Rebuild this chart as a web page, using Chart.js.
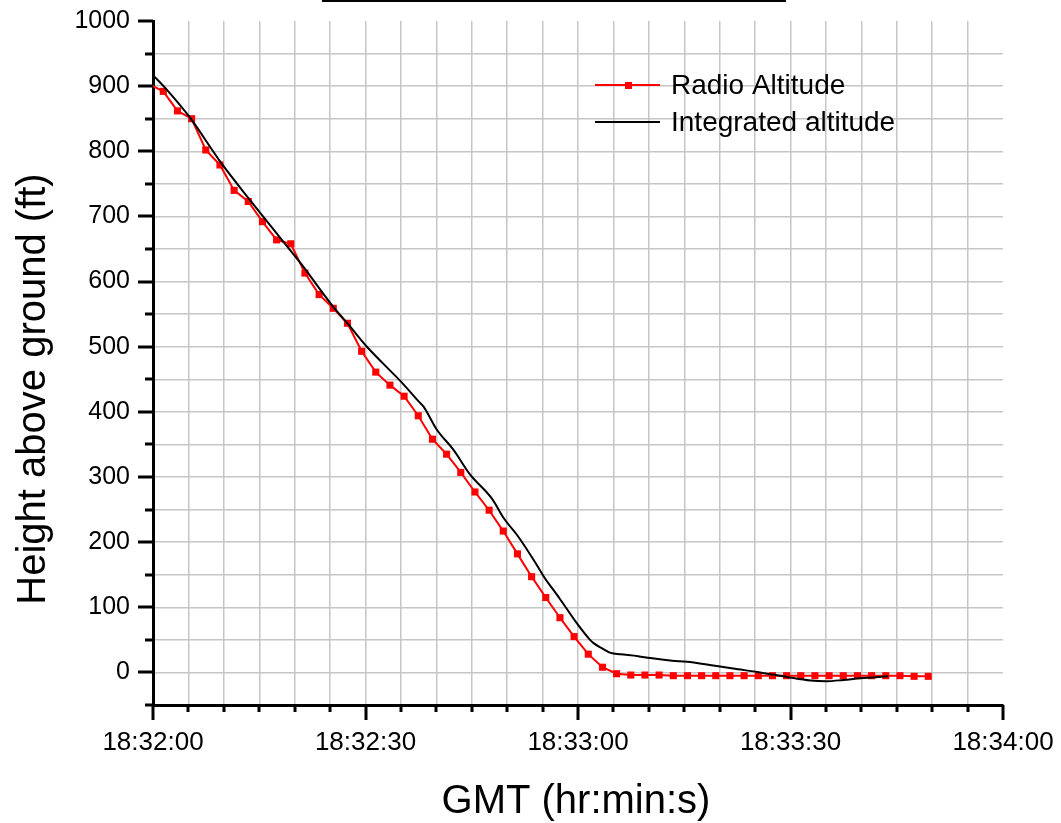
<!DOCTYPE html>
<html>
<head>
<meta charset="utf-8">
<script src="https://cdn.jsdelivr.net/npm/chart.js@4/dist/chart.umd.min.js"></script>
<style>
  body { margin: 0; background: #fff; }
  #wrap { position: relative; width: 1061px; height: 823px; }
</style>
</head>
<body>
<div id="wrap"><canvas id="chart" width="1061" height="823"></canvas></div>
<script>
// seconds after 18:32:00
var radioTimes = [-0.55, 1.45, 3.45, 5.45, 7.45, 9.45, 11.45, 13.45, 15.45, 17.45, 19.45,
    21.45, 23.45, 25.45, 27.45, 29.45, 31.45, 33.45, 35.45, 37.45, 39.45,
    41.45, 43.45, 45.45, 47.45, 49.45, 51.45, 53.45, 55.45, 57.45, 59.45,
    61.45, 63.45, 65.45, 67.45, 69.45, 71.45, 73.45, 75.45, 77.45, 79.45,
    81.45, 83.45, 85.45, 87.45, 89.45, 91.45, 93.45, 95.45, 97.45, 99.45,
    101.45, 103.45, 105.45, 107.45, 109.45];
var radioAlt = [903, 892, 862, 850, 802, 779, 740, 723, 692, 664, 658,
    613, 580, 559, 536, 493, 461, 441, 424, 394, 358,
    335, 307, 277, 249, 217, 182, 147, 115, 84, 55,
    28, 8, -2, -4, -4, -4, -5, -5, -5, -5,
    -5, -5, -5, -5, -5, -5, -5, -5, -5, -5,
    -5, -5, -5, -6, -6];

var intTimes = [0, 2, 5.2, 9.7, 13.7, 17.9, 21, 25.4, 27.6, 30.2, 32.5, 35.3, 37.5, 38.2,
    40.05, 42.4, 44.75, 47.9, 49.5, 51.4, 53.9, 55.3, 56.5, 57.5, 59.8, 61.7,
    62.2, 63.4, 64.6, 66, 68.5, 70.2, 73.3, 75.4, 78.6, 81.9, 85.7, 89.5,
    92.8, 95.1, 97.5, 99.8, 103.8];
var intAlt = [917, 894, 852, 781, 725, 668, 626, 562, 534, 500, 474, 443, 416, 408,
    373, 342, 304, 266, 237, 211, 170, 145, 127, 112, 76, 50,
    45, 37, 30, 28, 25, 22, 18, 16.5, 11.5, 6, 0, -7,
    -12.5, -13.5, -11.5, -9, -6];

var xTickLabels = ['18:32:00', '18:32:30', '18:33:00', '18:33:30', '18:34:00'];
var seriesNames = ['Radio Altitude', 'Integrated altitude'];
var xTitle = 'GMT (hr:min:s)';
var yTitle = 'Height above ground (ft)';

var FONT = 'Arial, "Liberation Sans", sans-serif';

function pts(xs, ys) {
    return xs.map(function (x, i) { return {x: x, y: ys[i]}; });
}

// kill chart.js label overflow padding so the plot box sits where we want it
function noOverflow(scale) {
    scale.paddingTop = 0;
    scale.paddingBottom = 0;
    scale.paddingLeft = 0;
    scale.paddingRight = 0;
}

var extras = {
    id: 'extras',
    afterDraw: function (chart) {
        var ctx = chart.ctx;
        var xs = chart.scales.x, ys = chart.scales.y;
        var area = chart.chartArea;
        ctx.save();
        // tick marks
        ctx.strokeStyle = '#000';
        ctx.lineWidth = 3;
        ctx.beginPath();
        for (var s = 0; s <= 120; s += 5) {
            var px = Math.round(xs.getPixelForValue(s));
            ctx.moveTo(px, area.bottom);
            ctx.lineTo(px, area.bottom + (s % 30 === 0 ? 15 : 7));
        }
        for (var v = -50; v <= 1000; v += 50) {
            var py = Math.round(ys.getPixelForValue(v));
            ctx.moveTo(area.left, py);
            ctx.lineTo(area.left - (v % 100 === 0 ? 15 : 8), py);
        }
        ctx.stroke();

        // legend
        var ds = chart.data.datasets;
        var rows = [85, 122];
        ctx.font = '28px ' + FONT;
        ctx.textBaseline = 'middle';
        ctx.textAlign = 'left';
        ds.forEach(function (d, i) {
            ctx.strokeStyle = d.borderColor;
            ctx.lineWidth = d.borderWidth;
            ctx.beginPath();
            ctx.moveTo(595, rows[i]);
            ctx.lineTo(660, rows[i]);
            ctx.stroke();
            if (d.pointRadius > 0) {
                ctx.fillStyle = d.pointBackgroundColor;
                ctx.fillRect(625, rows[i] - 3, 7, 7);
            }
            ctx.fillStyle = '#000';
            ctx.fillText(d.label, 671, rows[i] + 1);
        });

        // axis titles
        ctx.fillStyle = '#000';
        ctx.font = '40px ' + FONT;
        ctx.textBaseline = 'alphabetic';
        ctx.textAlign = 'center';
        ctx.fillText(xTitle, 576, 813);
        ctx.translate(45, 389);
        ctx.rotate(-Math.PI / 2);
        ctx.fillText(yTitle, 0, 0);
        ctx.restore();

        // cropped line at the top edge
        ctx.fillStyle = '#000';
        ctx.fillRect(322, 0, 464, 2);
    }
};

var chart = new Chart(document.getElementById('chart'), {
    type: 'line',
    data: {
        datasets: [
            {
                label: seriesNames[0],
                data: pts(radioTimes, radioAlt),
                borderColor: '#ff0000',
                backgroundColor: '#ff0000',
                pointBackgroundColor: '#ff0000',
                pointBorderColor: '#ff0000',
                borderWidth: 2,
                pointStyle: 'rect',
                pointRadius: 5,
                pointBorderWidth: 0,
                tension: 0,
                clip: 0,
                order: 2
            },
            {
                label: seriesNames[1],
                data: pts(intTimes, intAlt),
                borderColor: '#000000',
                backgroundColor: '#000000',
                borderWidth: 2,
                pointRadius: 0,
                cubicInterpolationMode: 'monotone',
                clip: 0,
                order: 1
            }
        ]
    },
    options: {
        responsive: false,
        animation: false,
        layout: {padding: {top: 21, right: 58, left: 0, bottom: 0}},
        plugins: {legend: {display: false}, tooltip: {enabled: false}},
        scales: {
            x: {
                type: 'linear',
                min: 0,
                max: 120,
                afterFit: function (scale) { scale.height = 118; noOverflow(scale); },
                border: {color: '#000', width: 3},
                grid: {
                    drawTicks: false,
                    lineWidth: 1.5,
                    color: function (c) {
                        var val = c.tick ? c.tick.value : 0;
                        return (val === 0 || val === 120) ? 'rgba(0,0,0,0)' : '#c6c6c6';
                    }
                },
                ticks: {
                    stepSize: 5,
                    autoSkip: false,
                    maxRotation: 0,
                    padding: 22,
                    color: '#000',
                    font: {family: FONT, size: 26},
                    callback: function (value) {
                        return value % 30 === 0 ? xTickLabels[value / 30] : '';
                    }
                }
            },
            y: {
                min: -50,
                max: 1000,
                afterFit: function (scale) { scale.width = 153; noOverflow(scale); },
                border: {color: '#000', width: 3},
                grid: {
                    drawTicks: false,
                    lineWidth: 1.5,
                    color: function (c) {
                        var val = c.tick ? c.tick.value : 0;
                        return (val === -50 || val === 1000) ? 'rgba(0,0,0,0)' : '#c6c6c6';
                    }
                },
                ticks: {
                    stepSize: 50,
                    autoSkip: false,
                    padding: 23,
                    color: '#000',
                    font: {family: FONT, size: 25},
                    callback: function (value) {
                        return value % 100 === 0 ? String(value) : '';
                    }
                }
            }
        }
    },
    plugins: [extras]
});
</script>
</body>
</html>
